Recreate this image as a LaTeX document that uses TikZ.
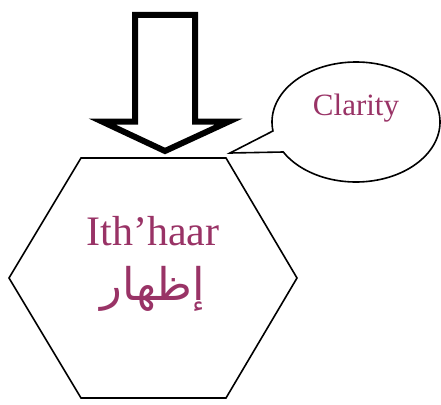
\documentclass[tikz,border=0pt]{standalone}
\usepackage{fontspec}
\setmainfont{Liberation Serif}
\newfontfamily\arabicfont[Script=Arabic]{DejaVu Sans}
\TeXXeTstate=1
\definecolor{plum}{RGB}{153,51,102}

\begin{document}
\begin{tikzpicture}[x=1pt,y=-1pt,line join=miter]

\useasboundingbox (0,0) rectangle (441,404);

% the big arrow
\coordinate (tip) at (165,151);
\draw [line width=6pt] (135,15) -- (195,15) -- (195,121.5) -- (229,121.5)
-- (tip) -- (102,121.5) -- (135,121.5) -- cycle;

% the hexagon
\draw [line width=1.6pt] (81,158) -- (226,158) -- (297,278) -- (226,398)
-- (81,398) -- (9,278) -- cycle;

\node (ithaar) at (153,245) [anchor=base, plum] {\fontsize{42}{42}\selectfont Ith’haar};
\node (izhar) at (153,300) [anchor=base, plum] {\arabicfont\fontsize{45}{45}\selectfont\beginR إظهار\endR};

% the callout
\coordinate (bubble) at (356,122);
\coordinate (point) at (230,153);
\draw [line width=1.6pt] (point) -- ([shift={(171.4:84 and 60)}]bubble)
arc [start angle=171.4, end angle=510, x radius=84, y radius=60] -- cycle;

\node (clarity) at (356,115) [anchor=base, plum] {\fontsize{31}{31}\selectfont Clarity};

\end{tikzpicture}
\end{document}
